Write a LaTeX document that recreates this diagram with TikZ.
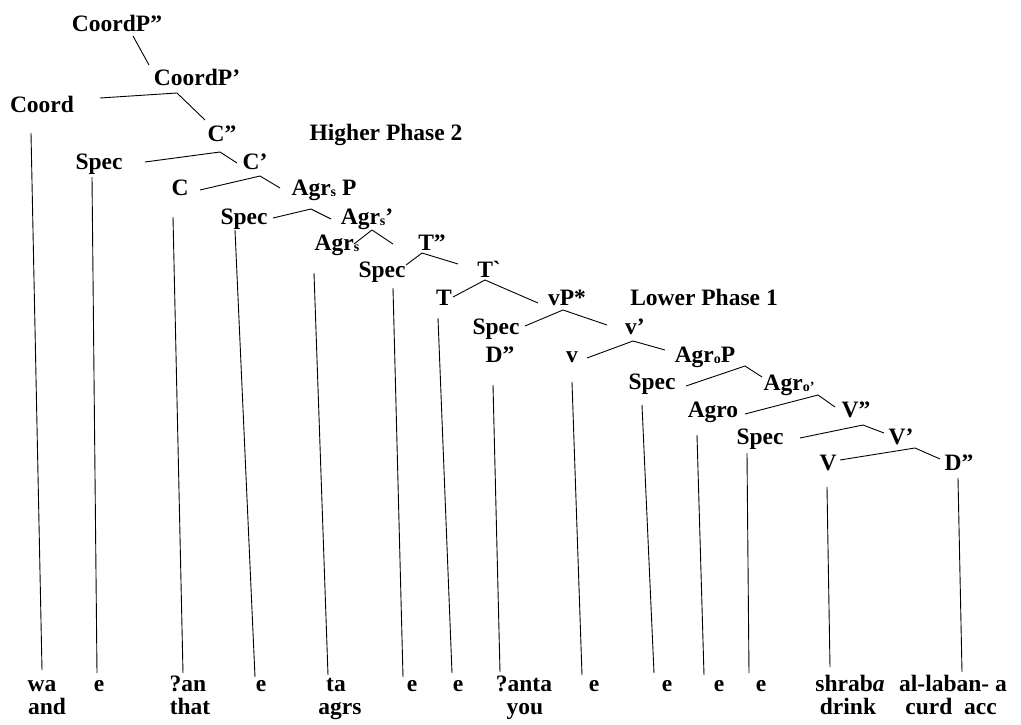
\documentclass[tikz,border=0pt]{standalone}
\usepackage{fontspec}
\setmainfont{Liberation Serif}
\newcommand\sbs[1]{\raisebox{-1.5pt}{\fontsize{14}{14}\selectfont #1}}
\tikzset{
  lab/.style={anchor=base,inner sep=0pt,font=\fontsize{23.5}{23.5}\selectfont\bfseries},
  br/.style={line width=0.9pt,black}
}
\begin{document}
\begin{tikzpicture}[x=1pt,y=-1pt]
\useasboundingbox (0,0) rectangle (1021,725);
% tree nodes (base positions)
\node[lab] (cpp) at (117,32) {CoordP”};
\node[lab] (cp) at (197,85) {CoordP’};
\node[lab] (coord) at (42,113) {Coord};
\node[lab] (cdp) at (222,141) {C”};
\node[lab] (hp) at (386,140) {Higher Phase 2};
\node[lab] (spec1) at (99,169) {Spec};
\node[lab] (cbar) at (255,169) {C’};
\node[lab] (c) at (180,195) {C};
\node[lab] (agrsp) at (324,195) {Agr\sbs{s} P};
\node[lab] (spec2) at (244,224) {Spec};
\node[lab] (agrsbar) at (367,224) {Agr\sbs{s}’};
\node[lab] (agrs) at (337,250) {Agr\sbs{s}};
\node[lab] (tdp) at (432,250) {T”};
\node[lab] (spec3) at (382,277) {Spec};
\node[lab] (tbar) at (489,277) {T\textasciigrave};
\node[lab] (t) at (444,305) {T};
\node[lab] (vp) at (567,305) {vP*};
\node[lab] (lp) at (704,305) {Lower Phase 1};
\node[lab] (spec4) at (496,334) {Spec};
\node[lab] (vbar) at (635,334) {v’};
\node[lab] (dspec) at (500,362) {D”};
\node[lab] (v) at (572,362) {v};
\node[lab] (agrop) at (705,362) {Agr\sbs{o}P};
\node[lab] (spec5) at (652,389) {Spec};
\node[lab] (agrobar) at (789,390) {Agr\sbs{o’}};
\node[lab] (agro) at (713,417) {Agro};
\node[lab] (vdp) at (856,417) {V”};
\node[lab] (spec6) at (760,444) {Spec};
\node[lab] (vbarr) at (901,444) {V’};
\node[lab] (vv) at (828,470) {V};
\node[lab] (dd) at (959,470) {D”};
% leaves
\node[lab] (wa) at (42,691) {wa};
\node[lab] (gwa) at (47,714) {and};
\node[lab] (e1) at (99,691) {e};
\node[lab] (an) at (188,691) {?an};
\node[lab] (gan) at (190,714) {that};
\node[lab] (e2) at (261,691) {e};
\node[lab] (ta) at (336,691) {ta};
\node[lab] (gta) at (340,714) {agrs};
\node[lab] (e3) at (412,691) {e};
\node[lab] (e4) at (458,691) {e};
\node[lab] (anta) at (524,691) {?anta};
\node[lab] (ganta) at (525,714) {you};
\node[lab] (e5) at (594,691) {e};
\node[lab] (e6) at (667,691) {e};
\node[lab] (e7) at (719,691) {e};
\node[lab] (e8) at (761,691) {e};
\node[lab] (shr) at (850,691) {shrab\textit{a}};
\node[lab] (gshr) at (848,714) {drink};
\node[lab] (lab) at (953,691) {al-laban- a};
\node[lab] (glab) at (951,714) {curd\ \ acc};
% branches
\draw[br] ([shift={(16,4)}]cpp.base) -- ([shift={(-48,-20)}]cp.base);
\draw[br] ([shift={(58,-15)}]coord.base) -- ([shift={(-20,8)}]cp.base) -- ([shift={(-17,-21)}]cdp.base);
\draw[br] ([shift={(46,-7)}]spec1.base) -- ([shift={(-2,11)}]cdp.base) -- ([shift={(-18,-6)}]cbar.base);
\draw[br] ([shift={(20,-5)}]c.base) -- ([shift={(5,7)}]cbar.base) -- ([shift={(-44,-7)}]agrsp.base);
\draw[br] ([shift={(29,-6)}]spec2.base) -- ([shift={(-13,14)}]agrsp.base) -- ([shift={(-36,-5)}]agrsbar.base);
\draw[br] ([shift={(17,-6)}]agrs.base) -- ([shift={(5,6)}]agrsbar.base) -- ([shift={(-39,-6)}]tdp.base);
\draw[br] ([shift={(24,-12)}]spec3.base) -- ([shift={(-10,3)}]tdp.base) -- ([shift={(-31,-13)}]tbar.base);
\draw[br] ([shift={(9,-8)}]t.base) -- ([shift={(-4,3)}]tbar.base) -- ([shift={(-29,-2)}]vp.base);
\draw[br] ([shift={(29,-8)}]spec4.base) -- ([shift={(-4,5)}]vp.base) -- ([shift={(-28,-9)}]vbar.base);
\draw[br] ([shift={(15,-4)}]v.base) -- ([shift={(-2,7)}]vbar.base) -- ([shift={(-40,-12)}]agrop.base);
\draw[br] ([shift={(34,-3)}]spec5.base) -- ([shift={(40,4)}]agrop.base) -- ([shift={(-27,-13)}]agrobar.base);
\draw[br] ([shift={(32,-3)}]agro.base) -- ([shift={(29,5)}]agrobar.base) -- ([shift={(-21,-10)}]vdp.base);
\draw[br] ([shift={(40,-6)}]spec6.base) -- ([shift={(7,8)}]vdp.base) -- ([shift={(-17,-11)}]vbarr.base);
\draw[br] ([shift={(12,-10)}]vv.base) -- ([shift={(14,4)}]vbarr.base) -- ([shift={(-19,-11)}]dd.base);
% vertical lines to leaves
\draw[br] ([shift={(-11,20)}]coord.base) -- ([shift={(0,-21)}]wa.base);
\draw[br] ([shift={(-7,8)}]spec1.base) -- ([shift={(-2,-18)}]e1.base);
\draw[br] ([shift={(-7,22)}]c.base) -- ([shift={(-5,-18)}]an.base);
\draw[br] ([shift={(-9,6)}]spec2.base) -- ([shift={(-6,-14)}]e2.base);
\draw[br] ([shift={(-23,23)}]agrs.base) -- ([shift={(-8,-16)}]ta.base);
\draw[br] ([shift={(11,11)}]spec3.base) -- ([shift={(-9,-14)}]e3.base);
\draw[br] ([shift={(-6,13)}]t.base) -- ([shift={(-6,-18)}]e4.base);
\draw[br] ([shift={(-7,23)}]dspec.base) -- ([shift={(-24,-19)}]anta.base);
\draw[br] ([shift={(0,20)}]v.base) -- ([shift={(-12,-16)}]e5.base);
\draw[br] ([shift={(-10,16)}]spec5.base) -- ([shift={(-13,-18)}]e6.base);
\draw[br] ([shift={(-16,18)}]agro.base) -- ([shift={(-15,-16)}]e7.base);
\draw[br] ([shift={(-13,9)}]spec6.base) -- ([shift={(-12,-18)}]e8.base);
\draw[br] ([shift={(-1,17)}]vv.base) -- ([shift={(-20,-24)}]shr.base);
\draw[br] ([shift={(-1,8)}]dd.base) -- ([shift={(9,-19)}]lab.base);
\end{tikzpicture}
\end{document}
